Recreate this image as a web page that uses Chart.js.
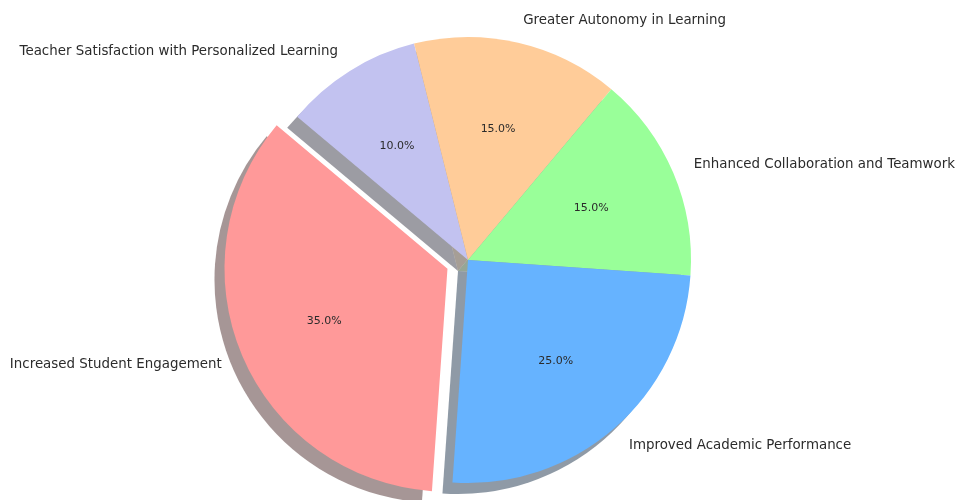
<!DOCTYPE html>
<html>
<head>
<meta charset="utf-8">
<script src="https://cdn.jsdelivr.net/npm/chart.js@4.4.1/dist/chart.umd.min.js"></script>
<style>
  html, body { margin: 0; padding: 0; background: #ffffff; }
  #wrap { width: 960px; height: 500px; position: relative; }
</style>
</head>
<body>
<div id="wrap"><canvas id="c"></canvas></div>
<script>
// Data (matplotlib order: counter-clockwise from the start angle)
const categories = [
  'Increased Student Engagement',
  'Improved Academic Performance',
  'Enhanced Collaboration and Teamwork',
  'Greater Autonomy in Learning',
  'Teacher Satisfaction with Personalized Learning'
];
const shares = [35, 25, 15, 15, 10];
const explodeBy = [0.1, 0, 0, 0, 0];
const sliceColors = ['#ff9999', '#66b3ff', '#99ff99', '#ffcc99', '#c2c2f0'];

// Chart.js draws clockwise, so feed it the reversed order
const cjLabels = categories.slice().reverse();
const cjValues = shares.slice().reverse();
const cjColors = sliceColors.slice().reverse();
const cjExplode = explodeBy.slice().reverse();
const total = shares.reduce((a, b) => a + b, 0);

function hexToRgb(h) {
  const n = parseInt(h.slice(1), 16);
  return [(n >> 16) & 255, (n >> 8) & 255, n & 255];
}

const explodePlugin = {
  id: 'explode',
  afterUpdate(chart) {
    const meta = chart.getDatasetMeta(0);
    meta.data.forEach((el, i) => {
      const e = cjExplode[i];
      if (!e) return;
      const mid = (el.startAngle + el.endAngle) / 2;
      el.x += Math.cos(mid) * e * el.outerRadius;
      el.y += Math.sin(mid) * e * el.outerRadius;
    });
  }
};

const SHADOW_DX = -10, SHADOW_DY = 11;
const shadowPlugin = {
  id: 'shadow',
  beforeDatasetsDraw(chart) {
    const ctx = chart.ctx;
    const meta = chart.getDatasetMeta(0);
    meta.data.forEach((el, i) => {
      const [r, g, b] = hexToRgb(cjColors[i]);
      ctx.save();
      ctx.fillStyle = `rgba(${Math.round(r * 0.3)},${Math.round(g * 0.3)},${Math.round(b * 0.3)},0.5)`;
      const cx = el.x + SHADOW_DX, cy = el.y + SHADOW_DY;
      ctx.beginPath();
      ctx.moveTo(cx, cy);
      ctx.arc(cx, cy, el.outerRadius, el.startAngle, el.endAngle);
      ctx.closePath();
      ctx.fill();
      ctx.restore();
    });
  }
};

const labelPlugin = {
  id: 'pieLabels',
  afterDatasetsDraw(chart) {
    const ctx = chart.ctx;
    const meta = chart.getDatasetMeta(0);
    meta.data.forEach((el, i) => {
      const mid = (el.startAngle + el.endAngle) / 2;
      const c = Math.cos(mid), s = Math.sin(mid);
      const R = el.outerRadius;
      ctx.save();
      ctx.fillStyle = '#2b2b2b';
      ctx.textBaseline = 'middle';
      // outer category label
      ctx.font = '13.4px "DejaVu Sans"';
      ctx.textAlign = c >= 0 ? 'left' : 'right';
      ctx.fillText(cjLabels[i], el.x + 1.1 * R * c, el.y + 1.1 * R * s);
      // percentage inside
      ctx.font = '11px "DejaVu Sans"';
      ctx.textAlign = 'center';
      const pct = (cjValues[i] / total * 100).toFixed(1) + '%';
      ctx.fillText(pct, el.x + 0.6 * R * c, el.y + 0.6 * R * s);
      ctx.restore();
    });
  }
};

new Chart(document.getElementById('c'), {
  type: 'pie',
  data: {
    labels: cjLabels,
    datasets: [{
      data: cjValues,
      backgroundColor: cjColors,
      borderWidth: 0,
      hoverOffset: 0
    }]
  },
  options: {
    responsive: true,
    maintainAspectRatio: false,
    animation: false,
    events: [],
    rotation: -50,
    layout: { padding: { top: 37, bottom: 17, left: 0, right: 24 } },
    plugins: {
      legend: { display: false },
      tooltip: { enabled: false },
      title: { display: false }
    }
  },
  plugins: [explodePlugin, shadowPlugin, labelPlugin]
});
</script>
</body>
</html>
